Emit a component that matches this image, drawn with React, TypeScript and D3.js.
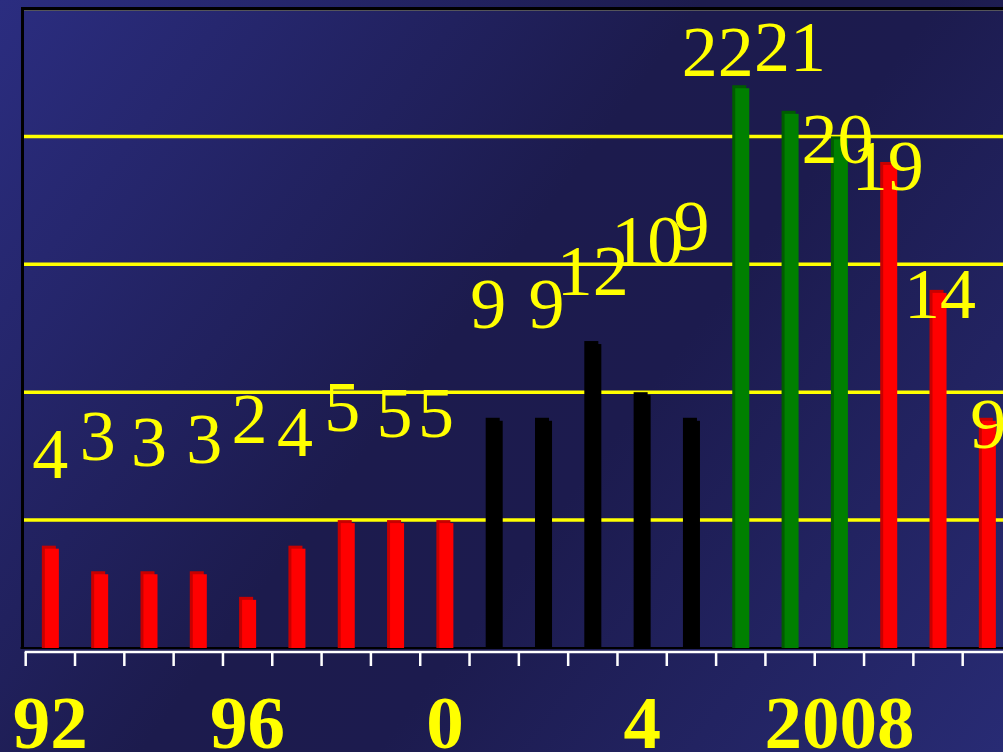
import React from "react";
import * as d3 from "d3";

// Yearly counts, 1992–2011
const years = [
  "1992", "1993", "1994", "1995", "1996", "1997", "1998", "1999", "2000", "2001",
  "2002", "2003", "2004", "2005", "2006", "2007", "2008", "2009", "2010", "2011",
];
const counts = [4, 3, 3, 3, 2, 4, 5, 5, 5, 9, 9, 12, 10, 9, 22, 21, 20, 19, 14, 9];
// Period each year belongs to (drives the bar colour)
const periods = [
  "early", "early", "early", "early", "early", "early", "early", "early", "early",
  "middle", "middle", "middle", "middle", "middle",
  "peak", "peak", "peak",
  "late", "late", "late",
];
const tickYears = ["1992", "1996", "2000", "2004", "2008"];
const tickLabels = ["92", "96", "0", "4", "2008"];
const gridValues = [5, 10, 15, 20];

const W = 1003;
const H = 752;
const plot = { left: 22.5, top: 8.5, bottom: 648, right: 1012 };
const axisLeft = 25.7;

// Hand-placed label nudges [dx, dy] relative to each bar's top centre
const labelNudge: [number, number][] = [
  [0, -68], [-2, -111], [0, -105], [6, -108], [2, -154], [-2, -90], [-4, -89], [-1, -83], [-9, -83],
  [-6, -90], [3, -90], [0, -46], [5, -127], [0, -168],
  [-23, -9], [0, -40], [-2, 27], [-1, 28], [2, 28], [1, 30],
];

const palette: Record<string, { face: string; side: string }> = {
  early: { face: "#ff0000", side: "#c80000" },
  middle: { face: "#000000", side: "#000000" },
  peak: { face: "#008000", side: "#005c00" },
  late: { face: "#ff0000", side: "#c80000" },
};

export default function App() {
  const bands = d3.scaleBand<string>().domain(years).range([axisLeft, plot.right]).padding(0);
  const step = bands.step();
  const x = d3
    .scaleBand<string>()
    .domain(years)
    .range([axisLeft, plot.right])
    .paddingInner(0.655)
    .paddingOuter(0.655 / 2);
  const y = d3.scaleLinear().domain([0, 25]).range([plot.bottom, plot.top]);
  const bw = x.bandwidth();
  const depth = 3;

  return (
    <div style={{ position: "fixed", left: 0, top: 0 }}>
      <svg width={W} height={H} style={{ display: "block" }}>
        <defs>
          <linearGradient id="bg" x1="0" y1="0" x2={W} y2={H} gradientUnits="userSpaceOnUse">
            <stop offset="0" stopColor="#2b2d80" />
            <stop offset="0.45" stopColor="#1c1b4d" />
            <stop offset="0.6" stopColor="#1c1b4e" />
            <stop offset="1" stopColor="#282b74" />
          </linearGradient>
        </defs>
        <rect x={0} y={0} width={W} height={H} fill="url(#bg)" />

        {/* gridlines */}
        {gridValues.map((v) => (
          <line
            key={v}
            x1={plot.left}
            x2={W}
            y1={y(v)}
            y2={y(v)}
            stroke="#ffff00"
            strokeWidth={3.5}
          />
        ))}

        {/* plot frame */}
        <line x1={plot.left - 1.5} x2={W} y1={plot.top} y2={plot.top} stroke="#000" strokeWidth={3} />
        <line x1={plot.left - 1.5} x2={W} y1={plot.top + 2} y2={plot.top + 2} stroke="#55555a" strokeWidth={1} />
        <line x1={plot.left} x2={plot.left} y1={plot.top - 1.5} y2={plot.bottom + 1} stroke="#000" strokeWidth={3} />
        <line x1={plot.left - 2} x2={W} y1={plot.bottom} y2={plot.bottom} stroke="#000" strokeWidth={2} />

        {/* bars with a slight 3D side */}
        {years.map((yr, i) => {
          const c = palette[periods[i]];
          const x0 = x(yr)!;
          const top = y(counts[i]);
          return (
            <g key={yr}>
              <rect x={x0} y={top} width={bw - depth} height={plot.bottom - top} fill={c.side} />
              <rect x={x0 + depth} y={top + depth} width={bw - depth} height={plot.bottom - top - depth} fill={c.face} />
            </g>
          );
        })}

        {/* x axis */}
        <line x1={axisLeft - 1} x2={W} y1={652} y2={652} stroke="#ffffff" strokeWidth={2.5} />
        {years.map((yr) => (
          <line
            key={yr}
            x1={bands(yr)!}
            x2={bands(yr)!}
            y1={652}
            y2={666}
            stroke="#ffffff"
            strokeWidth={2.5}
          />
        ))}
        {tickYears.map((yr, k) => (
          <text
            key={yr}
            x={bands(yr)! + step / 2}
            y={748}
            textAnchor="middle"
            fill="#ffff00"
            fontFamily="'Liberation Serif', 'Times New Roman', serif"
            fontWeight="bold"
            fontSize={75}
          >
            {tickLabels[k]}
          </text>
        ))}

        {/* value labels */}
        {years.map((yr, i) => (
          <text
            key={yr}
            x={bands(yr)! + step / 2 + labelNudge[i][0]}
            y={y(counts[i]) + labelNudge[i][1]}
            textAnchor="middle"
            fill="#ffff00"
            fontFamily="'Liberation Serif', 'Times New Roman', serif"
            fontSize={72}
          >
            {counts[i]}
          </text>
        ))}
      </svg>
    </div>
  );
}
